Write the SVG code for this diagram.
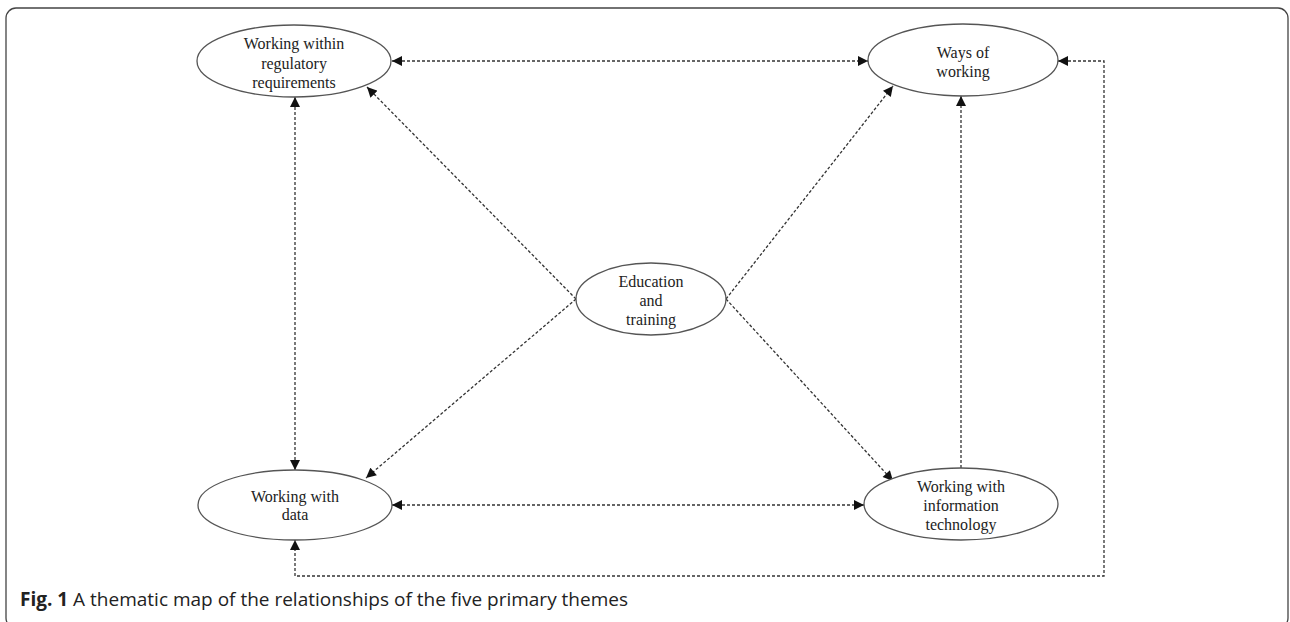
<svg xmlns="http://www.w3.org/2000/svg" width="1290" height="622" viewBox="0 0 1290 622">
<style>
.node ellipse{fill:#fff;stroke:#555;stroke-width:1.3}
.node text{font-family:"Liberation Serif","Times New Roman",serif;font-size:16px;fill:#222;text-anchor:middle}
.conn path{fill:none;stroke:#333;stroke-width:1.3;stroke-dasharray:3 2}
.cap{font-family:"Open Sans","Liberation Sans",sans-serif;font-size:19px;fill:#222}
</style>
<defs>
<marker id="ah" viewBox="0 0 10 10" refX="10" refY="5" markerWidth="11" markerHeight="10" markerUnits="userSpaceOnUse" orient="auto-start-reverse">
<path d="M0,0 L10,5 L0,10 Z" fill="#111"/>
</marker>
</defs>
<rect x="6" y="8" width="1282" height="620" rx="10" fill="none" stroke="#444" stroke-width="1.3"/>
<g class="conn">
<path d="M392,61 L868,61" marker-start="url(#ah)" marker-end="url(#ah)"/>
<path d="M295,97 L295,470" marker-start="url(#ah)" marker-end="url(#ah)"/>
<path d="M392,505 L864,505" marker-start="url(#ah)" marker-end="url(#ah)"/>
<path d="M961,468 L961,96" marker-end="url(#ah)"/>
<path d="M576,299 L367,87" marker-end="url(#ah)"/>
<path d="M726,299 L893,86" marker-end="url(#ah)"/>
<path d="M576,299 L366,478" marker-end="url(#ah)"/>
<path d="M726,299 L893,481" marker-end="url(#ah)"/>
<path d="M1058,61 L1104,61 L1104,576 L295,576 L295,540" marker-start="url(#ah)" marker-end="url(#ah)"/>
</g>
<g id="regulatory" class="node">
<ellipse cx="294" cy="61" rx="97" ry="36"/>
<text x="294" y="49">Working  within</text>
<text x="294" y="69">regulatory</text>
<text x="294" y="88">requirements</text>
</g>
<g id="ways" class="node">
<ellipse cx="963" cy="60" rx="95" ry="36"/>
<text x="963" y="58">Ways  of</text>
<text x="963" y="77">working</text>
</g>
<g id="education" class="node">
<ellipse cx="651" cy="299" rx="75" ry="36"/>
<text x="651" y="287">Education</text>
<text x="651" y="306">and</text>
<text x="651" y="325">training</text>
</g>
<g id="data" class="node">
<ellipse cx="295" cy="505" rx="97" ry="35"/>
<text x="295" y="502">Working  with</text>
<text x="295" y="520">data</text>
</g>
<g id="it" class="node">
<ellipse cx="961" cy="504" rx="97" ry="36"/>
<text x="961" y="492">Working  with</text>
<text x="961" y="511">information</text>
<text x="961" y="530">technology</text>
</g>
<text class="cap" x="20" y="606"><tspan font-weight="bold">Fig. 1</tspan> A thematic map of the relationships of the five primary themes</text>
</svg>
